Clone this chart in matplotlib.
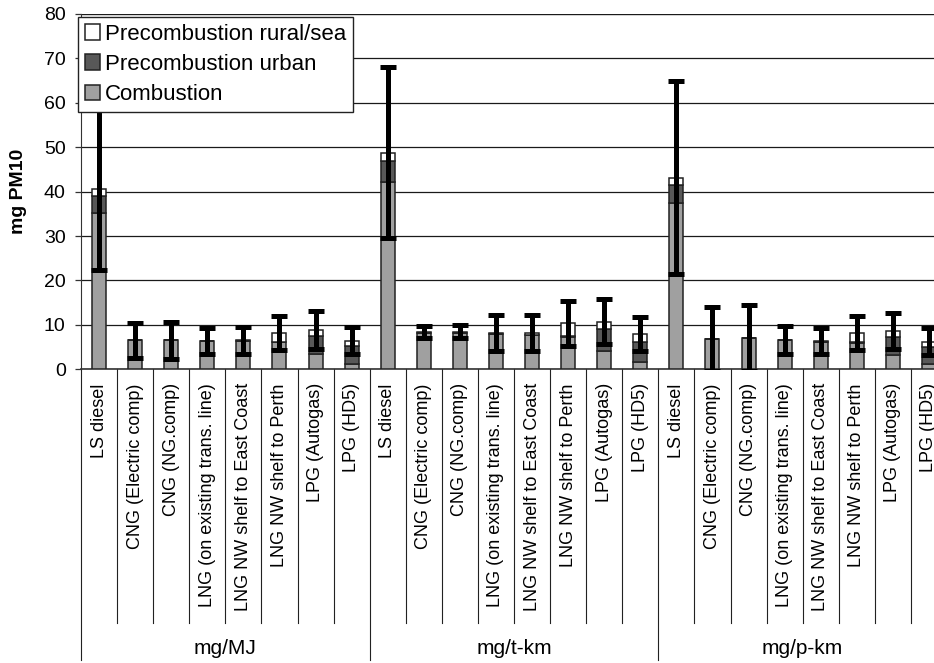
import numpy as np
import matplotlib
matplotlib.use('Agg')
import matplotlib.pyplot as plt
import matplotlib.transforms as mtransforms

plt.rcParams['font.family'] = ['Liberation Sans', 'DejaVu Sans']

fuels = ['LS diesel', 'CNG (Electric comp)', 'CNG (NG.comp)',
         'LNG (on existing trans. line)', 'LNG NW shelf to East Coast',
         'LNG NW shelf to Perth', 'LPG (Autogas)', 'LPG (HD5)']
units = ['mg/MJ', 'mg/t-km', 'mg/p-km']

# values per unit group, order as in fuels
combustion = [35.1, 6.5, 6.5, 6.4, 6.3, 6.1, 3.4, 1.2,
              42.2, 8.2, 8.2, 8.0, 7.7, 7.3, 4.1, 1.7,
              37.4, 6.8, 7.05, 6.6, 6.2, 6.0, 3.2, 1.2]
pre_urban = [4.0, 0, 0, 0, 0, 0.1, 4.0, 4.05,
             4.8, 0.05, 0.05, 0, 0, 0.2, 4.95, 4.5,
             4.1, 0, 0, 0, 0, 0.15, 4.15, 3.9]
pre_rural = [1.5, 0, 0, 0, 0.2, 2.0, 1.45, 1.2,
             1.8, 0.2, 0.25, 0.1, 0.5, 2.85, 1.65, 1.67,
             1.6, 0, 0, 0, 0.1, 1.95, 1.25, 1.1]
err = [18.3, 4.0, 4.1, 3.0, 3.0, 3.8, 4.2, 3.0,
       19.2, 1.4, 1.4, 4.05, 4.0, 5.0, 5.1, 3.8,
       21.7, 7.2, 7.35, 3.2, 2.95, 3.8, 4.0, 3.0]

comb = np.array(combustion)
urb = np.array(pre_urban)
rur = np.array(pre_rural)
total = comb + urb + rur
x = np.arange(len(comb))
labels = fuels * len(units)

fig = plt.figure(figsize=(9.34, 6.63), dpi=100)
ax = fig.add_axes([81 / 934, 1 - 369.3 / 663, 866 / 934, 355.4 / 663])

w = 0.39
ec = '#222222'
b1 = ax.bar(x, comb, w, color='#a0a0a0', edgecolor=ec, linewidth=1.1, zorder=3, label='Combustion')
b2 = ax.bar(x, urb, w, bottom=comb, color='#585858', edgecolor=ec, linewidth=1.1, zorder=3,
            label='Precombustion urban')
b3 = ax.bar(x, rur, w, bottom=comb + urb, color='white', edgecolor=ec, linewidth=1.1, zorder=3,
            label='Precombustion rural/sea')
ax.errorbar(x, total, yerr=err, fmt='none', ecolor='black', elinewidth=3.6,
            capsize=6, capthick=3.6, zorder=4)

ax.set_xlim(-0.5, len(x) - 0.5)
ax.set_ylim(0, 80)
ax.set_yticks(range(0, 81, 10))
ax.yaxis.grid(True, color='#1a1a1a', linewidth=0.9, zorder=0)
ax.set_axisbelow(True)
ax.tick_params(axis='y', labelsize=14, length=4, width=0.9, pad=7, color='#333333')
ax.set_ylabel('mg PM10', fontsize=14, fontweight='bold', labelpad=12)

ax.set_xticks(x)
ax.set_xticklabels(labels, rotation=90, fontsize=13, va='top', ha='center')
ax.tick_params(axis='x', length=0, pad=10)

for s in ['top', 'right']:
    ax.spines[s].set_visible(False)
ax.spines['left'].set_color('#333333')
ax.spines['bottom'].set_color('#333333')
ax.spines['bottom'].set_linewidth(1.2)
ax.axhline(80, color='#777777', linewidth=0.9, zorder=0)

# multi-level category axis lines
trans = mtransforms.blended_transform_factory(ax.transData, ax.transAxes)
for i in range(len(x) + 1):
    xb = i - 0.5
    y1 = -0.818 if i % len(fuels) == 0 else -0.714
    ax.plot([xb, xb], [0, y1], color='#222222', linewidth=0.8, transform=trans, clip_on=False)
for k, u in enumerate(units):
    t = ax.text(k * len(fuels) + (len(fuels) - 1) / 2, -0.787, u, transform=trans,
                ha='center', va='center', fontsize=15,
                family=['Liberation Sans Narrow', 'Liberation Sans', 'DejaVu Sans'])
    t.set_fontstretch('condensed')

leg = ax.legend(handles=[b3, b2, b1], loc='upper left',
                bbox_to_anchor=(78 / 934, 1 - 17 / 663), bbox_transform=fig.transFigure,
                fontsize=16, frameon=True, fancybox=False, borderaxespad=0,
                handlelength=0.7, handleheight=0.7, handletextpad=0.2,
                labelspacing=0.42, borderpad=0.3, framealpha=1)
leg.get_frame().set_edgecolor('#222222')
leg.get_frame().set_linewidth(1.0)
leg.set_zorder(10)

fig.savefig('out.png', dpi=100)
